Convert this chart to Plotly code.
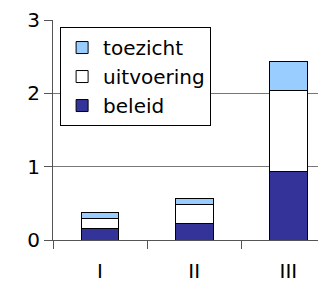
import plotly.graph_objects as go

categories = ["I", "II", "III"]
beleid = [0.16, 0.23, 0.93]
uitvoering = [0.14, 0.25, 1.11]
toezicht = [0.08, 0.09, 0.39]
series_names = ["beleid", "uitvoering", "toezicht"]
series_colors = ["#333399", "#FFFFFF", "#99CCFF"]
y_ticks = [0, 1, 2, 3]

fig = go.Figure()
for name, vals, col in zip(series_names, [beleid, uitvoering, toezicht], series_colors):
    fig.add_trace(go.Bar(
        x=categories, y=vals, name=name,
        marker=dict(color=col, line=dict(color="#000000", width=1)),
        width=0.4,
    ))

fig.update_layout(
    barmode="stack",
    width=326, height=283,
    margin=dict(l=45, r=8, t=12, b=51, autoexpand=False),
    paper_bgcolor="white", plot_bgcolor="white",
    font=dict(family="DejaVu Sans, Verdana, sans-serif", size=20, color="#000000"),
    showlegend=True,
    legend=dict(
        x=0.026, y=0.968, xanchor="left", yanchor="top",
        bgcolor="white", bordercolor="#000000", borderwidth=1,
        traceorder="reversed", itemwidth=32,
        font=dict(size=20),
    ),
    xaxis=dict(
        type="category", range=[-0.5, 2.4], automargin=False,
        showline=True, linecolor="#555555", linewidth=1,
        ticks="outside", ticklen=8, tickcolor="#555555", tickson="boundaries",
        showgrid=False, ticklabelstandoff=13,
    ),
    yaxis=dict(
        range=[0, 3], tickvals=y_ticks, automargin=False,
        showline=True, linecolor="#555555", linewidth=1,
        ticks="outside", ticklen=8, tickcolor="#555555",
        showgrid=True, gridcolor="#777777", gridwidth=1,
        zeroline=False,
    ),
)

fig.write_html("out.html")
